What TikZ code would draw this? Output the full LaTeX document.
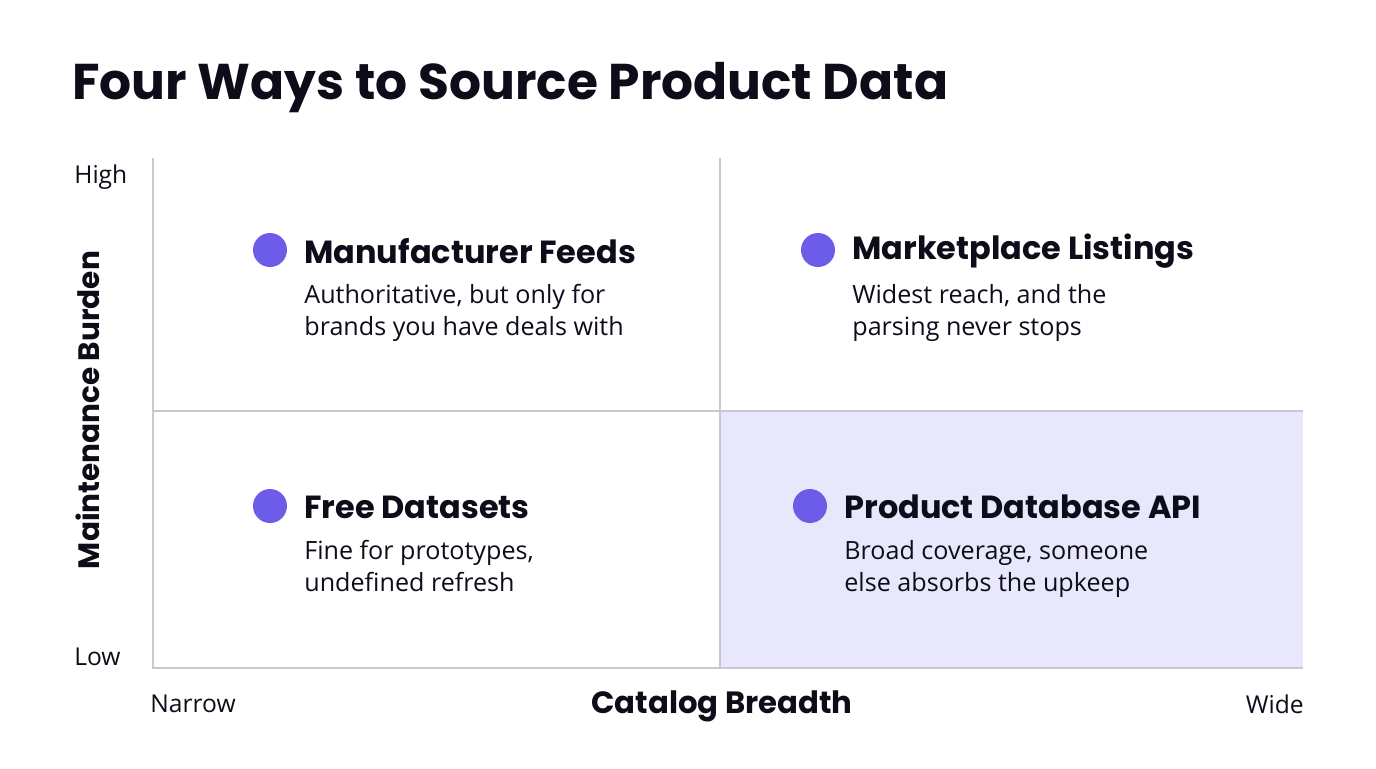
\documentclass[tikz,border=0pt]{standalone}
\usepackage{fontspec}
\setmainfont{Open Sans}
\newfontfamily\headfont{Poppins}
\usepackage{tikz}
\definecolor{dotblue}{HTML}{6C5CE7}
\definecolor{quadfill}{HTML}{E9E7FB}
\definecolor{axisgray}{HTML}{C8C8D0}
\definecolor{ink}{HTML}{0D0D1A}
\tikzset{
  grid line/.style={draw=axisgray, line width=1.2pt},
  marker/.style={circle, fill=dotblue, minimum size=0.68cm, inner sep=0pt},
  heading/.style={anchor=west, inner sep=0pt, text=ink, font=\headfont\bfseries\fontsize{18.2}{22}\selectfont},
  desc/.style={anchor=north west, inner sep=0pt, text=ink, align=left, font=\fontsize{14.3}{18}\selectfont},
  axis label/.style={inner sep=0pt, text=ink, font=\fontsize{14}{16}\selectfont}
}
\begin{document}
\begin{tikzpicture}[x=0.02cm, y=-0.02cm]
        \useasboundingbox[fill=white] (0,0) rectangle (1376,768);
        % Shaded quadrant
        \fill[quadfill] (720,411) rectangle (1303,668);

        % Grid
        \draw[grid line] (153,158) -- (153,668) -- (1303,668);
        \draw[grid line] (720,158) -- (720,668);
        \draw[grid line] (153,411) -- (1303,411);

        % Title
        \node (title) [anchor=west, inner sep=0pt, text=ink, font=\headfont\bfseries\fontsize{28.6}{34}\selectfont] at (72,88) {Four Ways to Source Product Data};

        % Quadrants
        \node (d1) [marker] at (270,250) {};
        \node (h1) [heading] at (304,251) {Manufacturer Feeds};
        \node (t1) [desc] at (304,284) {Authoritative, but only for\\brands you have deals with};

        \node (d2) [marker] at (818,250) {};
        \node (h2) [heading] at (852,251) {Marketplace Listings};
        \node (t2) [desc] at (852,284) {Widest reach, and the\\parsing never stops};

        \node (d3) [marker] at (270,506) {};
        \node (h3) [heading] at (304,507) {Free Datasets};
        \node (t3) [desc] at (304,540) {Fine for prototypes,\\undefined refresh};

        \node (d4) [marker] at (810,506) {};
        \node (h4) [heading] at (844,507) {Product Database API};
        \node (t4) [desc] at (844,540) {Broad coverage, someone\\else absorbs the upkeep};

        % Axes
        \node (high) [axis label, anchor=west] at (74,177) {High};
        \node (low) [axis label, anchor=west] at (74,657) {Low};
        \node (narrow) [axis label, anchor=west] at (150,704) {Narrow};
        \node (wide) [axis label, anchor=east] at (1304,704) {Wide};
        \node (xlab) [inner sep=0pt, text=ink, font=\headfont\bfseries\fontsize{17.5}{22}\selectfont] at (722,706) {Catalog Breadth};
        \node (ylab) [inner sep=0pt, text=ink, rotate=90, font=\headfont\bfseries\fontsize{16.8}{22}\selectfont] at (88,410) {Maintenance Burden};
    \end{tikzpicture}
\end{document}
